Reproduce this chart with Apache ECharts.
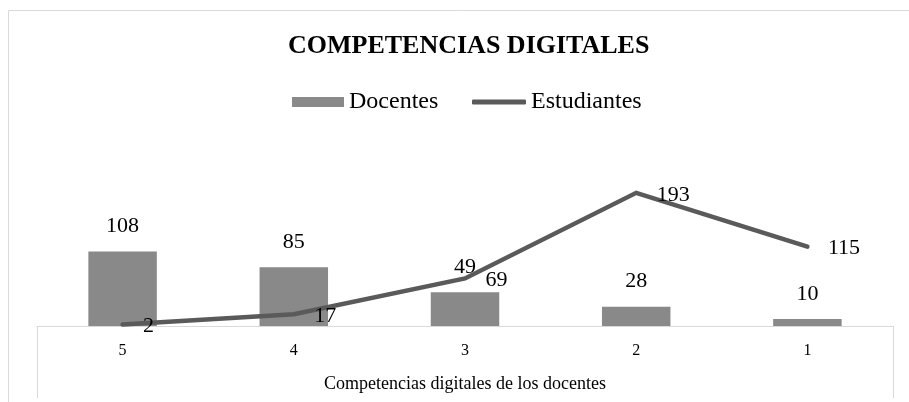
<!DOCTYPE html>
<html>
<head>
<meta charset="utf-8">
<script src="https://cdn.jsdelivr.net/npm/echarts@6/dist/echarts.min.js"></script>
<style>
  html, body { margin: 0; padding: 0; background: #fff; }
  #chart { width: 909px; height: 402px; }
</style>
</head>
<body>
<div id="chart"></div>
<script>
// niveles de competencia (eje x)
const categories = ['5', '4', '3', '2', '1'];
// valores de las series
const docentes = [108, 85, 49, 28, 10];
const estudiantes = [2, 17, 69, 193, 115];

const SERIF = '"Liberation Serif", "Times New Roman", serif';
const BORDER = '#d9d9d9';
const BAR_COLOR = '#898989';
const LINE_COLOR = '#5a5a5a';

const chart = echarts.init(document.getElementById('chart'), null, { renderer: 'canvas' });

const legendText = { fontFamily: SERIF, fontSize: 24, color: '#000' };

const option = {
  animation: false,
  backgroundColor: '#fff',
  title: {
    text: 'COMPETENCIAS DIGITALES',
    left: 288,
    top: 33,
    padding: 0,
    textStyle: { fontFamily: SERIF, fontSize: 26, fontWeight: 'bold', color: '#000' }
  },
  // dos leyendas para poder dar a cada icono su propio grosor
  legend: [
    {
      left: 292,
      top: 90,
      padding: 0,
      itemWidth: 52,
      itemHeight: 10,
      textStyle: legendText,
      data: [{ name: 'Docentes', icon: 'rect' }]
    },
    {
      left: 472,
      top: 90,
      padding: 0,
      itemWidth: 54,
      itemHeight: 5,
      textStyle: legendText,
      data: [{ name: 'Estudiantes', icon: 'roundRect', itemStyle: { color: LINE_COLOR } }]
    }
  ],
  grid: { left: 37, right: 16, bottom: 76, top: 153.5, containLabel: false },
  xAxis: {
    type: 'category',
    data: categories,
    boundaryGap: true,
    axisLine: { lineStyle: { color: BORDER, width: 1 } },
    axisTick: { show: false },
    axisLabel: { fontFamily: SERIF, fontSize: 16, color: '#000', margin: 17 },
    name: 'Competencias digitales de los docentes',
    nameLocation: 'middle',
    nameGap: 49,
    nameTextStyle: { fontFamily: SERIF, fontSize: 18, color: '#000' }
  },
  yAxis: {
    type: 'value',
    min: 0,
    max: 250,
    show: false
  },
  // marco del gráfico y caja del eje
  graphic: [
    { type: 'polyline', silent: true, shape: { points: [[8.5, 402], [8.5, 10.5], [909, 10.5]] },
      style: { stroke: BORDER, fill: null, lineWidth: 1 } },
    { type: 'line', silent: true, shape: { x1: 37.5, y1: 326, x2: 37.5, y2: 398 },
      style: { stroke: BORDER, lineWidth: 1 } },
    { type: 'line', silent: true, shape: { x1: 893.5, y1: 326, x2: 893.5, y2: 398 },
      style: { stroke: BORDER, lineWidth: 1 } }
  ],
  series: [
    {
      name: 'Docentes',
      type: 'bar',
      data: docentes,
      barWidth: '40%',
      itemStyle: { color: BAR_COLOR },
      label: {
        show: true,
        position: 'top',
        distance: 14,
        fontFamily: SERIF,
        fontSize: 22,
        color: '#000'
      }
    },
    {
      name: 'Estudiantes',
      type: 'line',
      data: estudiantes,
      symbol: 'circle',
      symbolSize: 1,
      itemStyle: { color: LINE_COLOR },
      lineStyle: { color: LINE_COLOR, width: 4.5, cap: 'round', join: 'miter' },
      label: {
        show: true,
        position: 'right',
        distance: 20,
        offset: [0, 2],
        fontFamily: SERIF,
        fontSize: 22,
        color: '#000'
      },
      z: 3
    }
  ]
};

chart.setOption(option);
</script>
</body>
</html>
